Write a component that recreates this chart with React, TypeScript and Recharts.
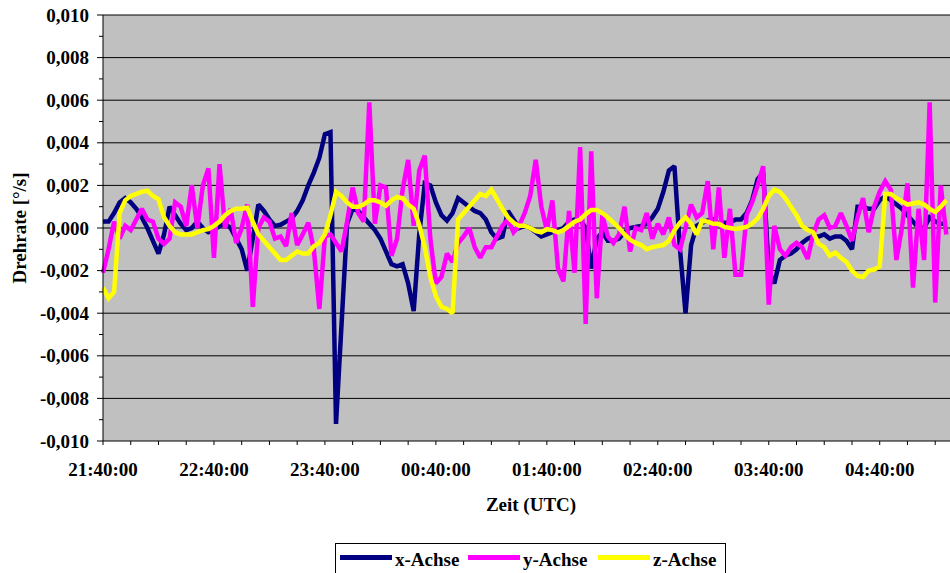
import React from "react";
import {
  LineChart,
  Line,
  XAxis,
  YAxis,
  CartesianGrid,
} from "recharts";

// Minutes after 21:40:00 UTC
const minutes: number[] = [
  0, 3, 6, 9, 12, 15, 18, 21, 24, 27, 30, 33, 36, 39, 42, 45, 48, 51, 54, 57,
  60, 63, 66, 69, 72, 75, 78, 81, 84, 87, 90, 93, 96, 99, 102, 105, 108, 111, 114, 117,
  120, 123, 126, 129, 132, 135, 138, 141, 144, 147, 150, 153, 156, 159, 162, 165, 168, 171, 174, 177,
  180, 183, 186, 189, 192, 195, 198, 201, 204, 207, 210, 213, 216, 219, 222, 225, 228, 231, 234, 237,
  240, 243, 246, 249, 252, 255, 258, 261, 264, 267, 270, 273, 276, 279, 282, 285, 288, 291, 294, 297,
  300, 303, 306, 309, 312, 315, 318, 321, 324, 327, 330, 333, 336, 339, 342, 345, 348, 351, 354, 357,
  360, 363, 366, 369, 372, 375, 378, 381, 384, 387, 390, 393, 396, 399, 402, 405, 408, 411, 414, 417,
  420, 423, 426, 429, 432, 435, 438, 441, 444, 447, 450, 453, 456,
];

// Drehrate x-Achse [°/s]
const xAchse: number[] = [
  0.0003, 0.0003, 0.0007, 0.0012, 0.0014, 0.0012, 0.0009, 0.0005, 0.0, -0.0006,
  -0.0012, -0.0003, 0.001, 0.0006, 0.0002, -0.0001, 0.0, 0.0003, 0.0, -0.0002,
  -0.0001, 0.0001, 0.0002, 0.0, -0.0005, -0.001, -0.002, -0.0005, 0.0011, 0.0008,
  0.0004, 0.0001, 0.00015, 0.0003, 0.00045, 0.0008, 0.0013, 0.002, 0.0026, 0.0033,
  0.0044, 0.0045, -0.0092, -0.0045, 0.0002, 0.0009, 0.0008, 0.0005, 0.0002, -0.0001,
  -0.0005, -0.0011, -0.0017, -0.0018, -0.0017, -0.0026, -0.0039, -0.0003, 0.0021, 0.002,
  0.0012, 0.0006, 0.00035, 0.0007, 0.0014, 0.0012, 0.001, 0.0008, 0.0007, 0.0004,
  -0.0002, -0.0005, -0.0004, 0.0008, 0.0004, 0.0, 0.0001, 0.0, -0.0002, -0.0004,
  -0.0003, -0.0002, -0.0001, 0.0, 0.0003, 0.0004, 0.0004, 0.0, -0.0019, -0.0005,
  -0.0002, -0.0006, -0.0006, -0.0005, -0.0002, 0.0, 0.00005, 0.0001, 0.0002, 0.0005,
  0.0009, 0.0017, 0.0027, 0.0029, -0.001, -0.004, -0.0008, 0.0001, 0.00025, 0.00035,
  0.0004, 0.0002, 0.00025, 0.00025, 0.0004, 0.0004, 0.0007, 0.0013, 0.0023, 0.0026,
  -0.002, -0.0026, -0.0015, -0.0013, -0.0012, -0.001, -0.0007, -0.0005, -0.0004, -0.0004,
  -0.0003, -0.0005, -0.0004, -0.0004, -0.0006, -0.001, 0.001, 0.001, 0.0009, 0.0009,
  0.0013, 0.0015, 0.0013, 0.0011, 0.0009, 0.0006, 0.0003, 0.0, 0.0, 0.0005,
  0.0003, 0.0002, 0.0002,
];

// Drehrate y-Achse [°/s]
const yAchse: number[] = [
  -0.0021, -0.001, 0.0003, -0.0005, 0.0001, -0.0001, 0.0004, 0.0009, 0.0004, 0.0003,
  -0.0005, -0.00075, -0.0005, 0.0012, 0.001, 0.0001, 0.002, 0.0, 0.002, 0.0028,
  -0.0014, 0.003, 0.0, 0.0009, -0.0007, 0.0, 0.0011, -0.0037, 0.0, 0.0005,
  0.0003, -0.0005, -0.0004, -0.00085, 0.0007, -0.0008, -0.0003, 0.00025, -0.001, -0.0038,
  -0.0004, -0.0003, -0.0007, -0.0011, 0.0003, 0.0019, 0.0007, 0.0003, 0.0059, 0.0002,
  0.002, 0.0019, -0.0013, -0.0005, 0.0018, 0.0032, 0.0001, 0.0027, 0.0034, -0.0005,
  -0.0026, -0.0023, -0.0012, -0.0016, -0.0007, -0.0004, 0.0, -0.0009, -0.0014, -0.0009,
  -0.0009, -0.0004, 0.0001, 0.0004, -0.0002, 0.0001, 0.0007, 0.0015, 0.0032, 0.001,
  -0.0001, 0.0013, -0.0019, -0.0025, 0.0008, -0.0021, 0.0038, -0.0045, 0.0036, -0.0033,
  0.0006, -0.0004, -0.0007, -0.0003, 0.001, -0.0011, 0.0, -0.0001, 0.0007, -0.0005,
  0.0002, -0.0003, 0.0005, -0.0008, -0.001, 0.0, 0.0011, 0.0005, 0.0007, 0.0022,
  -0.001, 0.0019, -0.0014, 0.0009, -0.0022, -0.0022, 0.0006, 0.0012, 0.002, 0.0029,
  -0.0036, 0.0001, -0.001, -0.0013, -0.0009, -0.0007, -0.0009, -0.00145, -0.0003, 0.0004,
  0.0006, 0.0, 0.0001, 0.0007, 0.0001, -0.0006, 0.0005, 0.0014, -0.0002, 0.001,
  0.0017, 0.0022, 0.0018, -0.0015, 0.0, 0.0021, -0.0028, 0.0009, -0.0015, 0.0059,
  -0.0035, 0.002, -0.0003,
];

// Drehrate z-Achse [°/s]
const zAchse: number[] = [
  -0.0028, -0.0033, -0.003, 0.0007, 0.0013, 0.0015, 0.0016, 0.0017, 0.00175, 0.0015,
  0.00135, 0.0005, 0.0001, -0.0002, -0.0003, -0.0003, -0.0003, -0.0002, -0.0001, -0.00005,
  0.0001, 0.0003, 0.0006, 0.0008, 0.0009, 0.0009, 0.00095, 0.0003, -0.0003, -0.0006,
  -0.0009, -0.0012, -0.0015, -0.0015, -0.0013, -0.0011, -0.0012, -0.0012, -0.00085, -0.0007,
  -0.0003, 0.0006, 0.0017, 0.0015, 0.0012, 0.001, 0.001, 0.0011, 0.0013, 0.0013,
  0.0012, 0.00105, 0.0013, 0.00145, 0.0014, 0.0011, 0.0009, 0.00015, -0.0009, -0.0023,
  -0.0032, -0.0037, -0.0038, -0.004, 0.0004, 0.0007, 0.001, 0.0013, 0.0016, 0.0015,
  0.0018, 0.00135, 0.0009, 0.0005, 0.00025, 0.0001, 0.0001, 0.0, -0.00015, -0.0002,
  -0.00005, -0.0001, -0.0002, -0.0001, 0.0001, 0.0003, 0.0004, 0.00065, 0.00085, 0.00085,
  0.0007, 0.0005, 0.00025, 0.0, -0.0003, -0.00055, -0.0007, -0.0008, -0.001, -0.0009,
  -0.00085, -0.0008, -0.0006, -0.0001, 0.00025, 0.0005, 0.0002, -0.0003, 0.00035, 0.0003,
  0.0002, 0.0002, 0.00005, 0.0, -0.00005, 0.0, 0.00005, 0.0002, 0.00045, 0.0009,
  0.0015, 0.0018, 0.0017, 0.0014, 0.001, 0.0006, 0.0001, -0.0001, -0.0002, -0.00075,
  -0.0009, -0.0013, -0.00115, -0.0014, -0.0016, -0.002, -0.00225, -0.0023, -0.002, -0.00195,
  -0.0018, 0.0016, 0.0016, 0.0014, 0.00125, 0.0011, 0.00115, 0.0012, 0.0011, 0.0009,
  0.00075, 0.001, 0.0013,
];

const xTicks = [
  0, 15, 30, 45, 60, 75, 90, 105, 120, 135, 150, 165, 180, 195, 210, 225, 240,
  255, 270, 285, 300, 315, 330, 345, 360, 375, 390, 405, 420, 435, 450,
];
const yTicks = [
  -0.01, -0.009, -0.008, -0.007, -0.006, -0.005, -0.004, -0.003, -0.002, -0.001, 0,
  0.001, 0.002, 0.003, 0.004, 0.005, 0.006, 0.007, 0.008, 0.009, 0.01,
];
const gridValues = [-0.008, -0.006, -0.004, -0.002, 0, 0.002, 0.004, 0.006, 0.008, 0.01];

const series = [
  { key: "x", name: "x-Achse", color: "#000080" },
  { key: "y", name: "y-Achse", color: "#FF00FF" },
  { key: "z", name: "z-Achse", color: "#FFFF00" },
];

const FONT = '"Liberation Serif", "Times New Roman", serif';

const data = minutes.map((t, i) => ({
  t,
  x: xAchse[i],
  y: yAchse[i],
  z: zAchse[i],
}));

const clock = (m: number) => {
  const total = (21 * 60 + 40 + m) % 1440;
  const hh = String(Math.floor(total / 60)).padStart(2, "0");
  const mm = String(total % 60).padStart(2, "0");
  return `${hh}:${mm}:00`;
};

const fmtY = (v: number) => {
  const s = Math.abs(v) < 1e-9 ? "0.000" : v.toFixed(3);
  return s.replace(".", ",");
};

const XTick = (props: any) => {
  const { x, y, payload } = props;
  if (Math.round(payload.value) % 60 !== 0) return <g />;
  return (
    <text
      x={x}
      y={y + 31}
      textAnchor="middle"
      fontFamily={FONT}
      fontWeight="bold"
      fontSize={19}
      fill="#000"
    >
      {clock(payload.value)}
    </text>
  );
};

const YTick = (props: any) => {
  const { x, y, payload } = props;
  const major = Math.round(payload.value * 1000) % 2 === 0;
  return (
    <g>
      <line x1={x - (major ? 6 : 4)} x2={x} y1={y} y2={y} stroke="#000" />
      {major && (
        <text
          x={x - 14}
          y={y}
          dy="0.35em"
          textAnchor="end"
          fontFamily={FONT}
          fontWeight="bold"
          fontSize={19}
          fill="#000"
        >
          {fmtY(payload.value)}
        </text>
      )}
    </g>
  );
};

const textStyle: React.CSSProperties = {
  position: "absolute",
  fontFamily: FONT,
  fontWeight: "bold",
  fontSize: 19,
  color: "#000",
  lineHeight: "19px",
  whiteSpace: "nowrap",
};

export default function App() {
  return (
    <div
      style={{
        position: "absolute",
        left: 0,
        top: 0,
        width: 950,
        height: 573,
        background: "#fff",
        overflow: "hidden",
      }}
    >
      <LineChart
        width={950}
        height={573}
        data={data}
        margin={{ top: 15, right: 0, bottom: 92, left: 0 }}
      >
        <CartesianGrid
          vertical={false}
          horizontalValues={gridValues}
          stroke="#000"
          fill="#C0C0C0"
          fillOpacity={1}
        />
        <XAxis
          dataKey="t"
          type="number"
          domain={[0, 458]}
          ticks={xTicks}
          interval={0}
          height={40}
          tickSize={4}
          tickMargin={0}
          axisLine={{ stroke: "#000" }}
          tickLine={{ stroke: "#000" }}
          tick={<XTick />}
        />
        <YAxis
          type="number"
          domain={[-0.01, 0.01]}
          ticks={yTicks}
          interval={0}
          width={103}
          allowDataOverflow
          tickSize={0}
          tickMargin={0}
          axisLine={{ stroke: "#000" }}
          tickLine={false}
          tick={<YTick />}
        />
        {series.map((s) => (
          <Line
            key={s.key}
            type="linear"
            dataKey={s.key}
            name={s.name}
            stroke={s.color}
            strokeWidth={4.5}
            strokeLinejoin="miter"
            strokeMiterlimit={2}
            dot={false}
            activeDot={false}
            isAnimationActive={false}
          />
        ))}
        <text
          x={19}
          y={228}
          transform="rotate(-90 19 228)"
          textAnchor="middle"
          dominantBaseline="central"
          fontFamily={FONT}
          fontWeight="bold"
          fontSize={19}
          fill="#000"
        >
          Drehrate [°/s]
        </text>
        <text
          x={531}
          y={511}
          textAnchor="middle"
          fontFamily={FONT}
          fontWeight="bold"
          fontSize={19}
          fill="#000"
        >
          Zeit (UTC)
        </text>
      </LineChart>

      {/* legend box */}
      <div
        style={{
          position: "absolute",
          left: 335,
          top: 543,
          width: 391,
          height: 40,
          border: "1px solid #000",
          background: "#fff",
          boxSizing: "border-box",
        }}
      >
        {series.map((s, i) => {
          const lineLeft = [4, 132, 262][i];
          return (
            <React.Fragment key={s.key}>
              <div
                style={{
                  position: "absolute",
                  left: lineLeft,
                  top: 11,
                  width: 52,
                  height: 5,
                  background: s.color,
                }}
              />
              <div style={{ ...textStyle, left: lineLeft + 55, top: 6 }}>{s.name}</div>
            </React.Fragment>
          );
        })}
      </div>
    </div>
  );
}
